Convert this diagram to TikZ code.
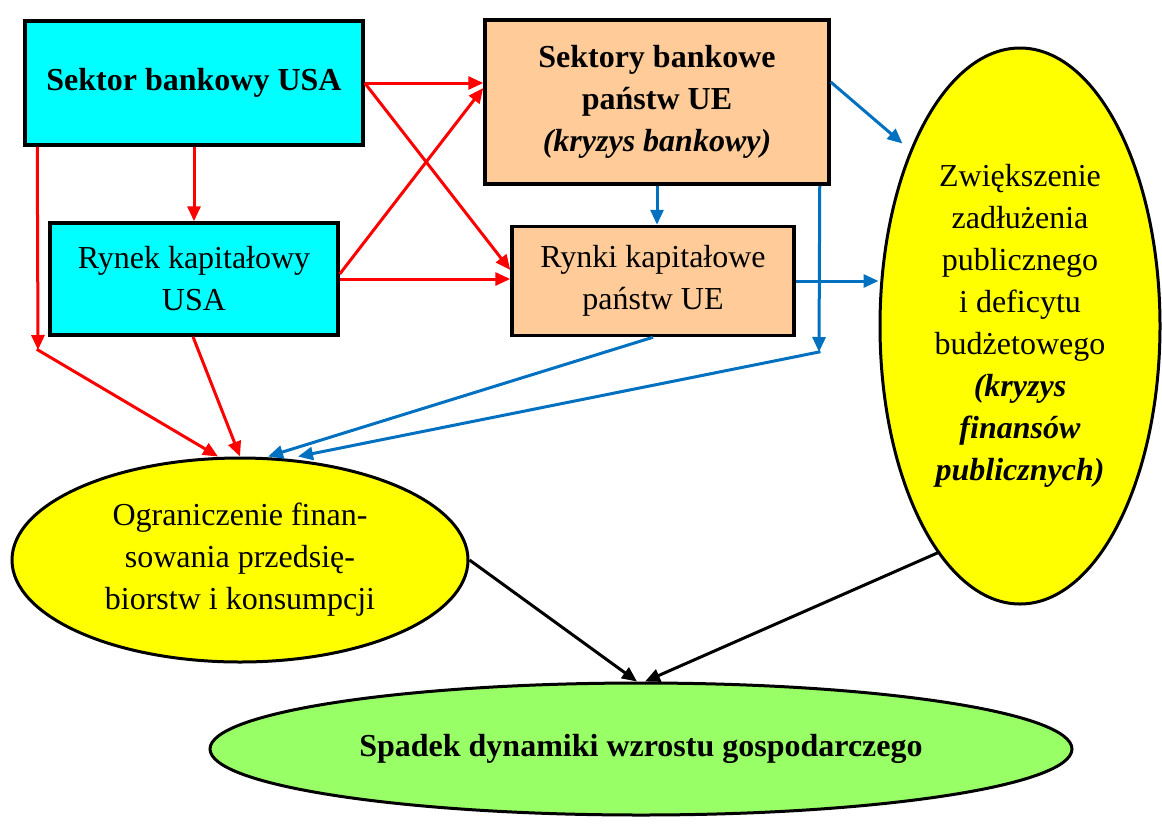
\documentclass[tikz,border=0pt]{standalone}
\usepackage{fontspec}
\setmainfont{Liberation Serif}
\usetikzlibrary{arrows.meta}
\usetikzlibrary{shapes.geometric}

\definecolor{usacyan}{HTML}{00FFFF}
\definecolor{uepeach}{HTML}{FFCC99}
\definecolor{crisisyellow}{HTML}{FFFF00}
\definecolor{growthgreen}{HTML}{99FF66}
\definecolor{flowred}{HTML}{FF0000}
\definecolor{flowblue}{HTML}{0070C0}

\tikzset{
  bigfont/.style={font=\fontsize{32pt}{42pt}\selectfont},
  sectorbox/.style={draw, line width=3.5pt, rectangle, inner sep=0pt,
    align=center, bigfont},
  crisisoval/.style={draw, line width=3pt, ellipse, inner sep=0pt,
    align=center, bigfont},
  redflow/.style={draw=flowred, line width=3pt,
    -{Triangle[length=15pt, width=13pt]}, flowred},
  blueflow/.style={draw=flowblue, line width=3pt,
    -{Triangle[length=15pt, width=13pt]}, flowblue},
  blackflow/.style={draw=black, line width=3pt,
    -{Triangle[length=15pt, width=13pt]}},
}

\begin{document}
\begin{tikzpicture}[x=1pt, y=-1pt]
\useasboundingbox (0,0) rectangle (1162,823); % adjust bounding box
\node (bankUSA) at (194,83) [sectorbox, fill=usacyan,
    minimum width=338pt, minimum height=124pt] {\textbf{Sektor bankowy USA}};
\node (rynekUSA) at (194,279) [sectorbox, fill=usacyan,
    minimum width=288pt, minimum height=112pt] {Rynek kapitałowy\\USA};
\node (bankUE) at (657,102) [sectorbox, fill=uepeach,
    minimum width=344pt, minimum height=164pt]
    {\textbf{Sektory bankowe}\\\textbf{państw UE}\\\textbf{\textit{(kryzys bankowy)}}};
\node (rynekUE) at (653,281) [sectorbox, fill=uepeach,
    minimum width=282pt, minimum height=109pt] {Rynki kapitałowe\\państw UE};
\node (dlug) at (1020,326) [crisisoval, fill=crisisyellow,
    minimum width=280pt, minimum height=556pt]
    {Zwiększenie\\zadłużenia\\publicznego\\i deficytu\\budżetowego\\
     \textbf{\textit{(kryzys}}\\\textbf{\textit{finansów}}\\\textbf{\textit{publicznych)}}};
\node (finans) at (240,560) [crisisoval, fill=crisisyellow,
    minimum width=456pt, minimum height=204pt]
    {Ograniczenie finan-\\sowania przedsię-\\biorstw i konsumpcji};
\node (spadek) at (641,749) [crisisoval, fill=growthgreen,
    minimum width=862pt, minimum height=132pt]
    {\textbf{Spadek dynamiki wzrostu gospodarczego}};

% USA -> UE
\draw [redflow] (bankUSA.east) -- (bankUE.west |- bankUSA.east);
\draw [redflow] (bankUSA.east) -- ([yshift=11pt]rynekUE.west);
\draw [redflow] ([yshift=5pt]rynekUSA.east) -- ([yshift=14pt]bankUE.west);
\draw [redflow] (rynekUSA.east) -- (rynekUE.west |- rynekUSA.east);
\draw [redflow] (bankUSA.south) -- (rynekUSA.north);

% USA -> finansowanie
\coordinate (kUSA) at (38,350);
\draw [redflow] ([xshift=14pt]bankUSA.south west) -- (kUSA);
\draw [redflow, shorten <=-1.5pt] (kUSA) -- ([xshift=-22pt]finans.north);
\draw [redflow] ([xshift=-1pt]rynekUSA.south) -- (finans.north);

% UE
\draw [blueflow] (bankUE.south) -- (bankUE.south |- rynekUE.north);
\coordinate (kUE) at (819,352);
\draw [blueflow] ([xshift=-11pt]bankUE.south east) -- (kUE);
\draw [blueflow, shorten <=-1.5pt] (kUE) -- ([xshift=58pt]finans.north);
\draw [blueflow] (rynekUE.south) -- ([xshift=28pt]finans.north);
\draw [blueflow] (rynekUE.east) -- (dlug.west |- rynekUE.east);
\draw [blueflow, shorten >=10pt] ([yshift=20pt]bankUE.east) -- (dlug.122);

% skutki
\draw [blackflow] (finans.east) -- ([xshift=-4pt]spadek.north);
\draw [blackflow] (dlug.250) -- ([xshift=4pt]spadek.north);
\end{tikzpicture}
\end{document}
